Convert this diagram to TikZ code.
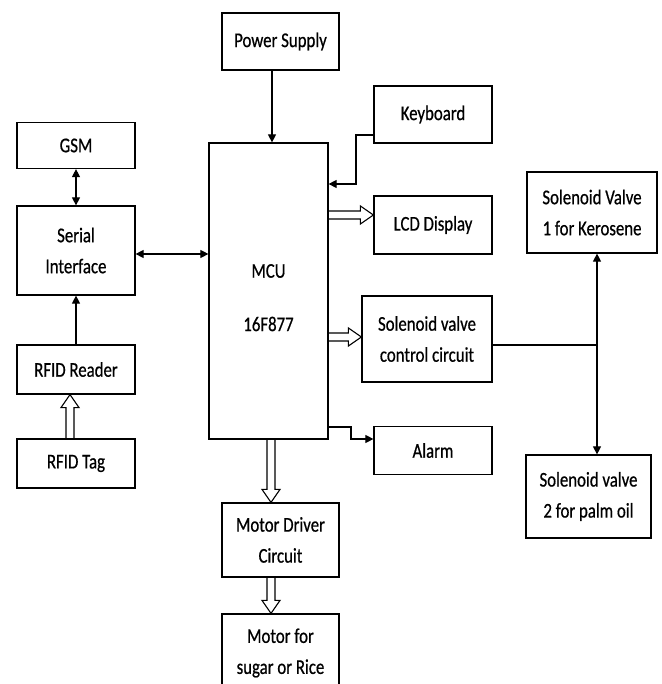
\documentclass[tikz,border=0pt]{standalone}
\usepackage{fontspec}
\setmainfont{Carlito}[FakeStretch=0.8,FakeBold=0.6]
\usetikzlibrary{arrows.meta,calc}
\tikzset{
 blk/.style={draw, line width=1.2pt, rectangle, inner sep=2pt, align=center, font=\fontsize{21}{31}\selectfont},
 lbl/.style={inner sep=0pt, font=\fontsize{21}{31}\selectfont},
 con/.style={line width=1.1pt, -{Triangle[length=8pt,width=8pt]}},
 bicon/.style={line width=1.1pt, {Triangle[length=8pt,width=8pt]}-{Triangle[length=8pt,width=8pt]}},
 plainline/.style={line width=1.1pt},
 hol/.style={line width=1.1pt, line join=miter},
}
\newcommand\hollowarrow[2]{%
 \draw[hol] let \p1=(#1), \p2=(#2), \n1={atan2(\y2-\y1,\x2-\x1)}, \n2={veclen(\x2-\x1,\y2-\y1)} in
 [shift={(\p1)}, rotate=\n1] (0,4) -- (\n2-13,4) -- (\n2-13,9) -- (\n2,0) -- (\n2-13,-9) -- (\n2-13,-4) -- (0,-4);}
\begin{document}
\begin{tikzpicture}[x=1pt,y=1pt]
\path[use as bounding box] (0,0) rectangle (661,684);
\clip (0,0) rectangle (661,684);
% left column
\node[blk, minimum width=118pt, minimum height=46pt] (gsm) at (76,538.5) {GSM};
\node[blk, minimum width=118pt, minimum height=89pt] (serial) at (76,433.5) {Serial\\Interface};
\node[blk, minimum width=118pt, minimum height=49pt] (reader) at (76,314.5) {RFID Reader};
\node[blk, minimum width=118pt, minimum height=49pt] (tag) at (76,220.5) {RFID Tag};
% MCU
\node[blk, minimum width=119pt, minimum height=296pt] (mcu) at (268.5,393) {};
\node[lbl] (mcuA) at (268.5,413) {MCU};
\node[lbl] (mcuB) at (268.5,360) {16F877};
% top and bottom
\node[blk, minimum width=117pt, minimum height=57pt] (ps) at (280.5,642.5) {Power Supply};
\node[blk, minimum width=117pt, minimum height=74pt] (md) at (280.5,144) {Motor Driver\\Circuit};
\node[blk, minimum width=117pt, minimum height=78pt] (motor) at (280.5,31) {Motor for\\sugar or Rice};
% right of MCU
\node[blk, minimum width=118pt, minimum height=57pt] (kb) at (433,569.5) {Keyboard};
\node[blk, minimum width=118pt, minimum height=58pt] (lcd) at (433,459) {LCD Display};
\node[blk, minimum width=130pt, minimum height=86pt] (svcc) at (427,345) {Solenoid valve\\control circuit};
\node[blk, minimum width=118pt, minimum height=48pt] (alarm) at (433,233.5) {Alarm};
% valves
\node[blk, minimum width=130pt, minimum height=81pt] (sv1) at (592,471.5) {Solenoid Valve\\1 for Kerosene};
\node[blk, minimum width=125pt, minimum height=83pt] (sv2) at (588.5,187.5) {Solenoid valve\\2 for palm oil};
% connectors
\draw[bicon] (gsm) -- (serial);
\draw[con] (reader) -- (serial);
\hollowarrow{[xshift=-6pt]tag.north}{[xshift=-6pt]reader.south}
\draw[bicon] ([yshift=-3.5pt]serial.east) -- ([yshift=-3.5pt]serial.east -| mcu.west);
\draw[con] ([xshift=-8.5pt]ps.south) -- ([xshift=-8.5pt]ps.south |- mcu.north);
\coordinate (kbbend) at (356,500);
\draw[con] ([yshift=-20.5pt]kb.west) -| (kbbend) -- (kbbend -| mcu.east);
\coordinate (lcdin) at ([yshift=10pt]lcd.west);
\hollowarrow{mcu.east |- lcdin}{lcdin}
\coordinate (svin) at ([yshift=2pt]svcc.west);
\hollowarrow{mcu.east |- svin}{svin}
\coordinate (albend) at (351,257);
\draw[con] (albend -| mcu.east) -- (albend) |- ([yshift=11.5pt]alarm.west);
\coordinate (svj) at (597,339);
\draw[plainline] (svcc.east |- svj) -- (svj);
\draw[con] (svj) -- (svj |- sv1.south);
\draw[con] (svj) -- (svj |- sv2.north);
\coordinate (mdin) at ([xshift=-9.5pt]md.north);
\hollowarrow{mcu.south -| mdin}{mdin}
\hollowarrow{[xshift=-9.5pt]md.south}{[xshift=-9.5pt]motor.north}
\end{tikzpicture}
\end{document}
